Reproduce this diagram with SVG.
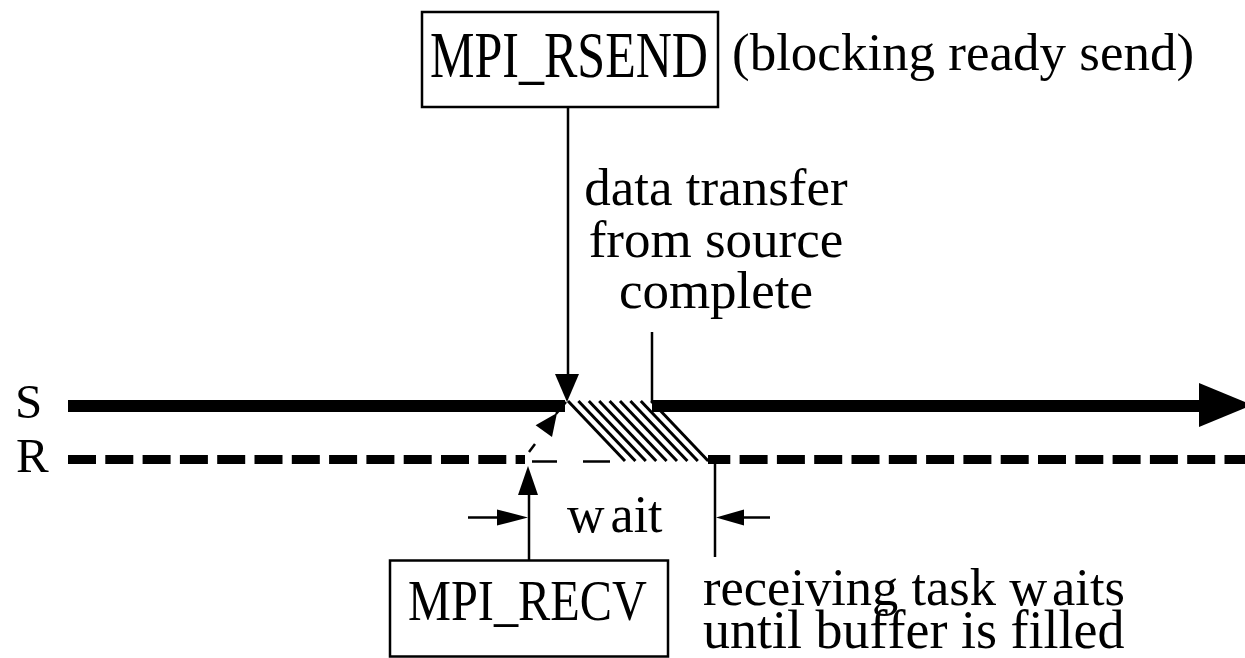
<svg xmlns="http://www.w3.org/2000/svg" width="1245" height="658" viewBox="0 0 1245 658">
  <style>
    text { font-family: "Liberation Serif", "Times New Roman", serif; fill: #000; font-variant-ligatures: none; font-kerning: none; }
    .lbl { font-size: 53px; }
    .box { fill: #fff; stroke: #000; stroke-width: 2.5; }
    .thin { stroke: #000; stroke-width: 2.5; fill: none; }
    .hatch { stroke: #000; stroke-width: 3; }
    .head { fill: #000; }
  </style>

  <!-- Timeline labels -->
  <g id="label-s"><text x="15" y="418" style="font-size:49px">S</text></g>
  <g id="label-r"><text x="16" y="472" style="font-size:49px">R</text></g>

  <!-- Timelines and arrows -->
  <g id="connectors">
    <!-- sender timeline (solid, thick) -->
    <line x1="68" y1="406" x2="565" y2="406" stroke="#000" stroke-width="12"/>
    <line x1="652" y1="406" x2="1202" y2="406" stroke="#000" stroke-width="12"/>
    <polygon class="head" points="1199,383 1252,405 1199,427"/>

    <!-- receiver timeline (dashed, thick) -->
    <line x1="68" y1="459.5" x2="525" y2="459.5" stroke="#000" stroke-width="9" stroke-dasharray="28 9.3"/>
    <line x1="708" y1="459.5" x2="1245" y2="459.5" stroke="#000" stroke-width="9" stroke-dasharray="28 9.3" stroke-dashoffset="5.7"/>
    <!-- thin section of receiver timeline -->
    <line class="thin" x1="532" y1="461.5" x2="557" y2="461.5"/>
    <line class="thin" x1="583" y1="461.5" x2="610" y2="461.5"/>

    <!-- data transfer hatching -->
    <g id="transfer-hatch">
      <line class="hatch" x1="568" y1="401" x2="625" y2="461"/>
      <line class="hatch" x1="578.4" y1="401" x2="635.4" y2="461"/>
      <line class="hatch" x1="588.8" y1="401" x2="645.8" y2="461"/>
      <line class="hatch" x1="599.2" y1="401" x2="656.2" y2="461"/>
      <line class="hatch" x1="609.6" y1="401" x2="666.6" y2="461"/>
      <line class="hatch" x1="620" y1="401" x2="677" y2="461"/>
      <line class="hatch" x1="630.4" y1="401" x2="687.4" y2="461"/>
      <line class="hatch" x1="640.8" y1="401" x2="697.8" y2="461"/>
      <line class="hatch" x1="651.2" y1="401" x2="708.2" y2="461"/>
    </g>

    <!-- MPI_RSEND call arrow -->
    <line class="thin" x1="568" y1="107" x2="568" y2="378"/>
    <polygon class="head" points="555,374 579,374 567,402"/>

    <!-- marker line for transfer complete -->
    <line class="thin" x1="652" y1="332" x2="652" y2="402"/>

    <!-- MPI_RECV call arrow -->
    <line class="thin" x1="529" y1="560" x2="529" y2="490"/>
    <polygon class="head" points="518,495 538,495 528,466"/>

    <!-- dashed diagonal from receive to send -->
    <line class="thin" x1="529" y1="452" x2="535" y2="444"/>
    <polygon class="head" points="557,413 552,437 535.6,425.2"/>
    <line class="thin" x1="556" y1="414" x2="566" y2="402"/>

    <!-- wait interval dimension arrows -->
    <line class="thin" x1="468" y1="517.5" x2="505" y2="517.5"/>
    <polygon class="head" points="497,509.5 528,517.5 497,525.5"/>
    <line class="thin" x1="715" y1="462" x2="715" y2="557"/>
    <line class="thin" x1="738" y1="517.5" x2="770" y2="517.5"/>
    <polygon class="head" points="744,509.5 716,517.5 744,525.5"/>
  </g>

  <!-- Blocking ready send call -->
  <g id="node-rsend">
    <rect class="box" x="422" y="12" width="296" height="95"/>
    <text transform="translate(430,77) scale(0.758,1)" style="font-size:66px">MPI_RSEND</text>
  </g>
  <g id="label-rsend-note">
    <text class="lbl" x="732" y="70">(blocking ready send)</text>
  </g>

  <!-- Transfer complete note -->
  <g id="label-transfer">
    <text class="lbl" text-anchor="middle" x="716" y="205">data transfer<tspan x="716" dy="52">from source</tspan><tspan x="716" dy="51">complete</tspan></text>
  </g>

  <!-- Wait interval label -->
  <g id="label-wait">
    <text x="567" y="532" style="font-size:52px">w<tspan dx="6">ait</tspan></text>
  </g>

  <!-- Receive call -->
  <g id="node-recv">
    <rect class="box" x="390" y="560.5" width="278" height="96"/>
    <text transform="translate(408,620) scale(0.863,1)" style="font-size:56px">MPI_RECV</text>
  </g>

  <!-- Receiving task note -->
  <g id="label-receiving">
    <text x="703" y="605" style="font-size:52.5px">receiving task w<tspan dx="5">aits</tspan><tspan x="703" dy="43" style="font-size:54px">until buffer is filled</tspan></text>
  </g>
</svg>
